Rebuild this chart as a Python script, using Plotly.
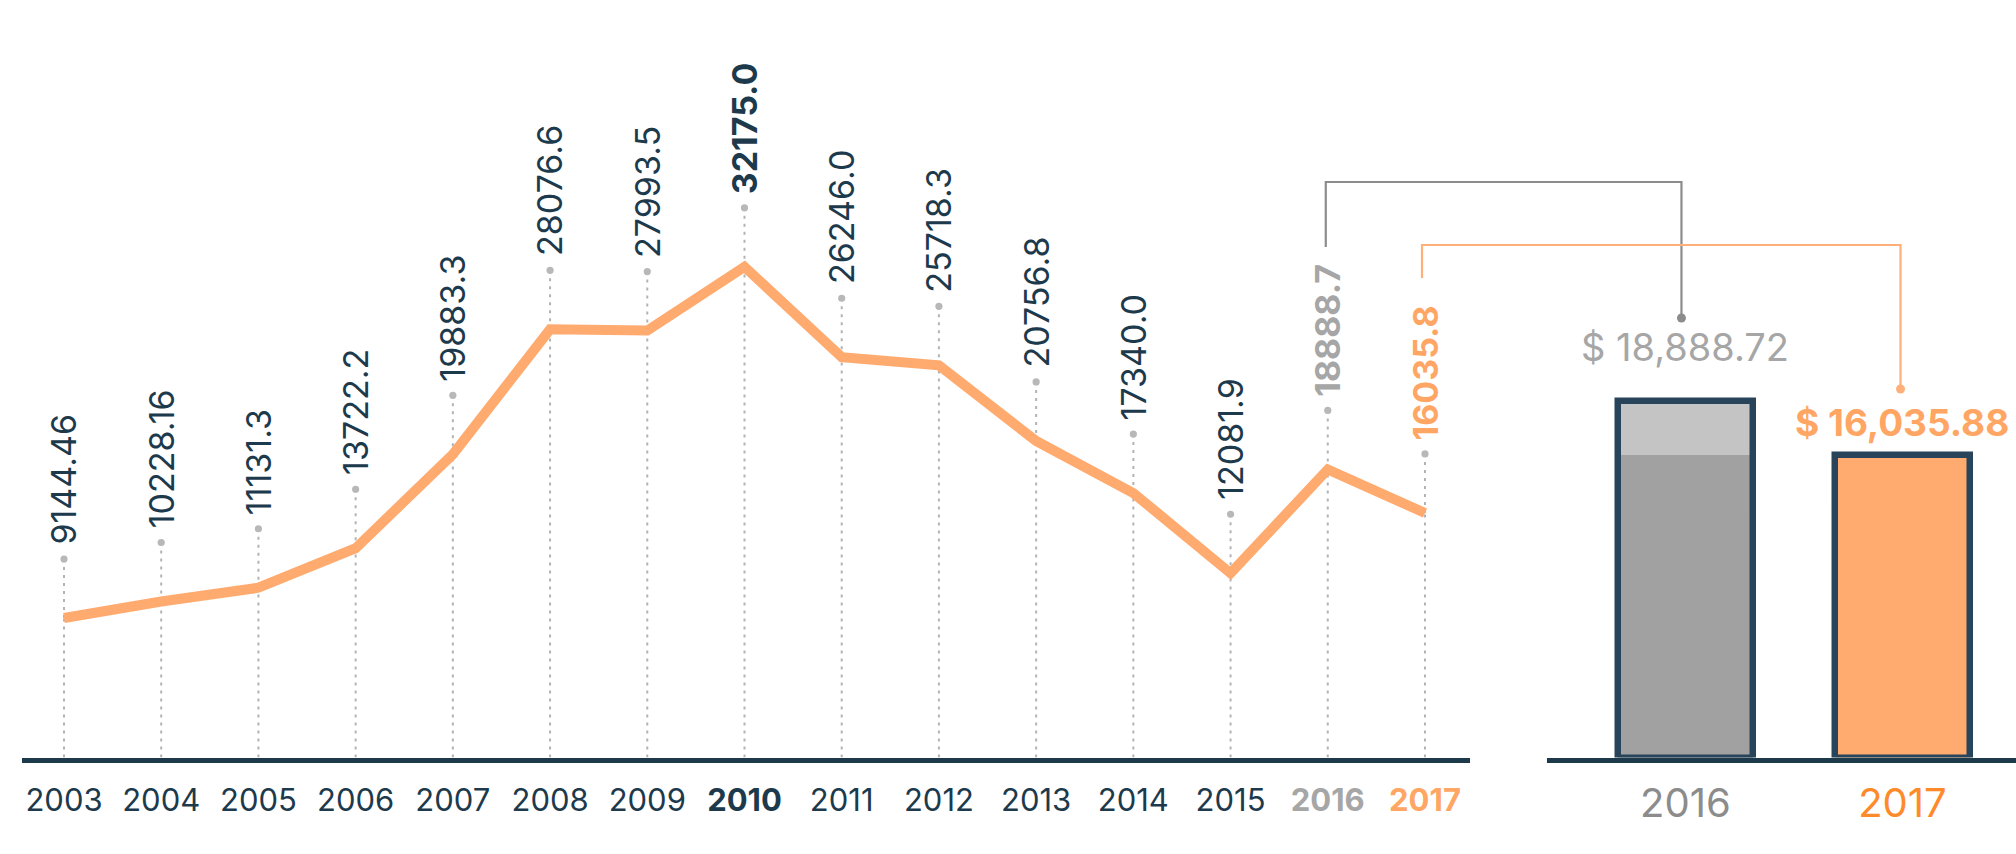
import plotly.graph_objects as go

# ---------------- data ----------------
years = ["2003", "2004", "2005", "2006", "2007", "2008", "2009", "2010",
         "2011", "2012", "2013", "2014", "2015", "2016", "2017"]
values = [9144.46, 10228.16, 11131.3, 13722.2, 19883.3, 28076.6, 27993.5, 32175.0,
          26246.0, 25718.3, 20756.8, 17340.0, 12081.9, 18888.7, 16035.8]
value_labels = ["9144.46", "10228.16", "11131.3", "13722.2", "19883.3", "28076.6", "27993.5",
                "32175.0", "26246.0", "25718.3", "20756.8", "17340.0", "12081.9", "18888.7", "16035.8"]
bar_years = ["2016", "2017"]
bar_values = [18888.72, 16035.88]
bar_labels = ["$ 18,888.72", "$ 16,035.88"]

# ---------------- styles ----------------
FONT = "Inter, 'Open Sans', sans-serif"
NAVY = "#1d3a4d"
OUTLINE = "#27445a"
ORANGE = "#ffaa6e"
ORANGE_TXT = "#ffa664"
ORANGE_DARK = "#ff8a2a"
GRAY_TXT = "#a6a6a6"
GRAY_DARK = "#8c8c8c"
DOT_GRAY = "#b8b8b8"
LIGHT_BAR = "#c4c4c4"
DARK_BAR = "#a1a1a1"

styles = {"2010": (NAVY, True), "2016": (GRAY_TXT, True), "2017": (ORANGE_TXT, True)}

W, H = 2016, 854
BASE_PX = 757.5
X1_DOM = [22 / W, 1470 / W]
X1_RANGE = [-0.432, 14.463]
X2_DOM = [1547 / W, 1.0]
X2_RANGE = [-0.638, 1.523]
Y_DOM = [(H - BASE_PX) / H, 1.0]
Y1_RANGE = [0, BASE_PX / 0.01525]
Y2_RANGE = [0, BASE_PX / 0.01886]


def xpaper(dom, rng, v):
    return dom[0] + (v - rng[0]) / (rng[1] - rng[0]) * (dom[1] - dom[0])


def ypaper(px):
    return 1 - px / H


xs = list(range(len(years)))

fig = go.Figure()

# line
fig.add_trace(go.Scatter(x=xs, y=values, mode="lines",
                         line=dict(color=ORANGE, width=10),
                         hoverinfo="skip", xaxis="x", yaxis="y", cliponaxis=False))

# bars (fills)
fig.add_trace(go.Bar(x=[0], y=[bar_values[0]], width=0.624, marker=dict(color=LIGHT_BAR, line=dict(width=0)),
                     xaxis="x2", yaxis="y2", hoverinfo="skip"))
fig.add_trace(go.Bar(x=[0], y=[bar_values[1]], width=0.624, marker=dict(color=DARK_BAR, line=dict(width=0)),
                     xaxis="x2", yaxis="y2", hoverinfo="skip"))
fig.add_trace(go.Bar(x=[1], y=[bar_values[1]], width=0.624, marker=dict(color=ORANGE, line=dict(width=0)),
                     xaxis="x2", yaxis="y2", hoverinfo="skip"))
# bar outlines
fig.add_trace(go.Bar(x=[0, 1], y=bar_values, width=0.624,
                     marker=dict(color="rgba(0,0,0,0)", line=dict(color=OUTLINE, width=6.5)),
                     xaxis="x2", yaxis="y2", hoverinfo="skip"))

shapes = []
annotations = []
DOT_OFF = 59
for i, (y, v, lab) in enumerate(zip(years, values, value_labels)):
    # dotted guide from axis to the value, then up to the dot
    shapes.append(dict(type="line", xref="x", yref="y", x0=i, x1=i, y0=0, y1=v,
                       line=dict(color="#b3b3b3", width=2, dash="3px,5px"), layer="below"))
    shapes.append(dict(type="line", xref="x", yref="y", ysizemode="pixel", yanchor=v,
                       x0=i, x1=i, y0=0, y1=DOT_OFF,
                       line=dict(color="#b3b3b3", width=2, dash="3px,5px"), layer="below"))
    shapes.append(dict(type="circle", xref="x", yref="y", xsizemode="pixel", ysizemode="pixel",
                       xanchor=i, yanchor=v, x0=-3.6, x1=3.6, y0=DOT_OFF - 3.6, y1=DOT_OFF + 3.6,
                       fillcolor=DOT_GRAY, line=dict(width=0), layer="below"))
    col, bold = styles.get(y, (NAVY, False))
    txt = f"<b>{lab}</b>" if bold else lab
    annotations.append(dict(x=i, y=v, xref="x", yref="y", text=txt, showarrow=False,
                            textangle=-90, xanchor="center", yanchor="bottom", yshift=DOT_OFF + 12,
                            font=dict(family=FONT, size=34, color=col)))

# bar value labels
annotations.append(dict(x=0, y=bar_values[0], xref="x2", yref="y2", text=bar_labels[0], showarrow=False,
                        xanchor="center", yanchor="middle", yshift=54,
                        font=dict(family=FONT, size=38, color=GRAY_TXT)))
annotations.append(dict(x=1, y=bar_values[1], xref="x2", yref="y2", text=f"<b>{bar_labels[1]}</b>",
                        showarrow=False, xanchor="center", yanchor="middle", yshift=33,
                        font=dict(family=FONT, size=37, color=ORANGE_TXT)))

# connectors (line-chart label -> bar label)
i16 = years.index("2016")
i17 = years.index("2017")
gx0 = xpaper(X1_DOM, X1_RANGE, i16) - 2 / W
gx1 = xpaper(X2_DOM, X2_RANGE, 0) - 4 / W
ox0 = xpaper(X1_DOM, X1_RANGE, i17) - 3 / W
ox1 = xpaper(X2_DOM, X2_RANGE, 1) - 2 / W
shapes.append(dict(type="path", xref="paper", yref="paper",
                   path=f"M {gx0} {ypaper(247)} L {gx0} {ypaper(182)} L {gx1} {ypaper(182)} L {gx1} {ypaper(318)}",
                   line=dict(color=GRAY_DARK, width=2.2)))
shapes.append(dict(type="circle", xref="paper", yref="paper", xsizemode="pixel", ysizemode="pixel",
                   xanchor=gx1, yanchor=ypaper(318), x0=-4.5, x1=4.5, y0=-4.5, y1=4.5,
                   fillcolor=GRAY_DARK, line=dict(width=0)))
shapes.append(dict(type="path", xref="paper", yref="paper",
                   path=f"M {ox0} {ypaper(278)} L {ox0} {ypaper(245)} L {ox1} {ypaper(245)} L {ox1} {ypaper(389)}",
                   line=dict(color="#ffb07a", width=2.2)))
shapes.append(dict(type="circle", xref="paper", yref="paper", xsizemode="pixel", ysizemode="pixel",
                   xanchor=ox1, yanchor=ypaper(389), x0=-4.5, x1=4.5, y0=-4.5, y1=4.5,
                   fillcolor="#ffb07a", line=dict(width=0)))

# tick labels
ticktext = []
for y in years:
    col, bold = styles.get(y, (NAVY, False))
    t = f"<span style='color:{col}'>{y}</span>"
    ticktext.append(f"<b>{t}</b>" if bold else t)
bar_ticktext = [f"<span style='color:{GRAY_DARK}'>{bar_years[0]}</span>",
                f"<span style='color:{ORANGE_DARK}'>{bar_years[1]}</span>"]

fig.update_layout(
    width=W, height=H,
    margin=dict(l=0, r=0, t=0, b=0),
    paper_bgcolor="white", plot_bgcolor="white",
    showlegend=False, barmode="overlay", bargap=0,
    font=dict(family=FONT, color=NAVY),
    xaxis=dict(domain=X1_DOM, range=X1_RANGE, tickvals=xs, ticktext=ticktext,
               showline=True, linecolor=NAVY, linewidth=5, showgrid=False, zeroline=False,
               ticks="outside", ticklen=11, tickcolor="rgba(0,0,0,0)",
               tickfont=dict(family=FONT, size=31, color=NAVY), anchor="y", fixedrange=True),
    yaxis=dict(domain=Y_DOM, range=Y1_RANGE, visible=False, anchor="x", fixedrange=True),
    xaxis2=dict(domain=X2_DOM, range=X2_RANGE, tickvals=[0, 1], ticktext=bar_ticktext,
                showline=True, linecolor=NAVY, linewidth=5, showgrid=False, zeroline=False,
                ticks="outside", ticklen=6, tickcolor="rgba(0,0,0,0)",
                tickfont=dict(family=FONT, size=40), anchor="y2", fixedrange=True),
    yaxis2=dict(domain=Y_DOM, range=Y2_RANGE, visible=False, anchor="x2", fixedrange=True),
    shapes=shapes,
    annotations=annotations,
)

fig.write_html("out.html", config={"displayModeBar": False})
